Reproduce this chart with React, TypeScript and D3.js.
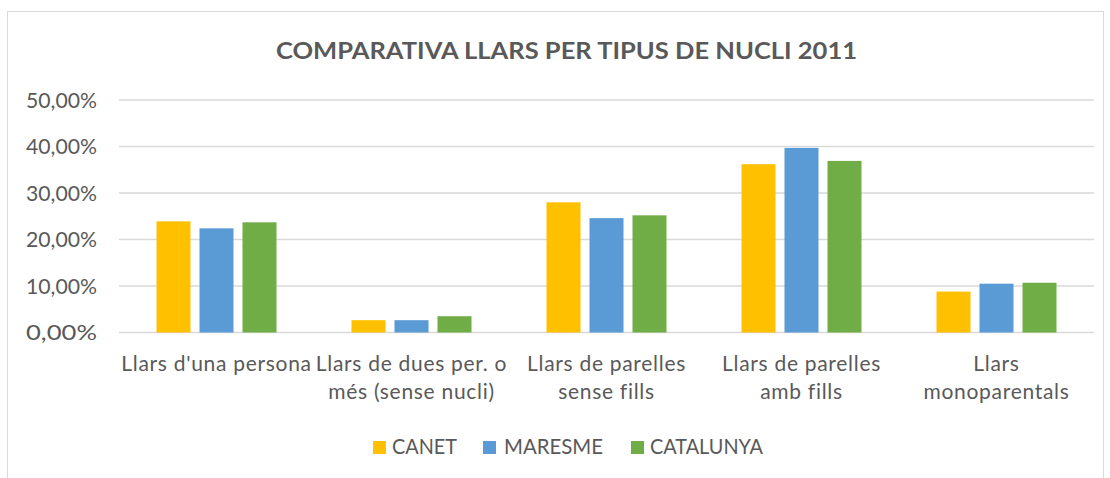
import React, { useEffect } from "react";
import * as d3 from "d3";

const categories = [
  "Llars d'una persona",
  "Llars de dues per. o més (sense nucli)",
  "Llars de parelles sense fills",
  "Llars de parelles amb fills",
  "Llars monoparentals",
];
const categoryLines = [
  ["Llars d'una persona"],
  ["Llars de dues per. o", "més (sense nucli)"],
  ["Llars de parelles", "sense fills"],
  ["Llars de parelles", "amb fills"],
  ["Llars", "monoparentals"],
];
const seriesNames = ["CANET", "MARESME", "CATALUNYA"];
const canet = [23.9, 2.65, 28.0, 36.2, 8.8];
const maresme = [22.4, 2.65, 24.6, 39.7, 10.5];
const catalunya = [23.7, 3.5, 25.2, 36.9, 10.7];
const yTicks = [0, 10, 20, 30, 40, 50];
const title = "COMPARATIVA LLARS PER TIPUS DE NUCLI 2011";

const colors = ["#FFC000", "#5B9BD5", "#70AD47"];
const FONT = "Lato, 'Open Sans', sans-serif";
const TXT = "#595959";

export default function App() {
  useEffect(() => {
    document.body.style.margin = "0";
  }, []);
  const W = 1110, H = 478;
  const left = 119, right = 1094, top = 100, bottom = 332.5;
  const x = d3.scaleBand<string>().domain(categories).range([left, right]).paddingInner(0).paddingOuter(0);
  const groupW = 120;
  const xi = d3.scaleBand<string>().domain(seriesNames).range([0, groupW]).paddingInner(9 / 43).paddingOuter(0);
  const y = d3.scaleLinear().domain([0, 50]).range([bottom, top]);
  const series = [canet, maresme, catalunya];
  const fmt = (v: number) => v.toFixed(2).replace(".", ",") + "%";

  const legendSq = [373, 483, 631];
  const legendTx = [392, 504, 650];
  const legendW = [65, 99, 113];

  return (
    <svg width={W} height={H} style={{ display: "block", background: "#fff" }} fontFamily={FONT}>
      <rect x={7.5} y={11.5} width={1096} height={480} fill="#fff" stroke="#D9D9D9" strokeWidth={1} />
      <text x={566.5} y={59} textAnchor="middle" fontSize={22} fontWeight="bold" fill={TXT} textLength={581} lengthAdjust="spacingAndGlyphs">
        {title}
      </text>
      {yTicks.map((t) => (
        <g key={t}>
          <line x1={left} x2={right} y1={y(t)} y2={y(t)} stroke="#D9D9D9" strokeWidth={1.3} />
          <text x={97} y={y(t) + 7.5} textAnchor="end" fontSize={21} fill={TXT} textLength={71} lengthAdjust="spacingAndGlyphs">
            {fmt(t)}
          </text>
        </g>
      ))}
      {categories.map((c, ci) => {
        const gx = (x(c) as number) + (x.bandwidth() - groupW) / 2;
        return (
          <g key={c}>
            {series.map((s, si) => (
              <rect
                key={si}
                x={gx + (xi(seriesNames[si]) as number)}
                y={y(s[ci])}
                width={xi.bandwidth()}
                height={y(0) - y(s[ci])}
                fill={colors[si]}
              />
            ))}
            {categoryLines[ci].map((ln, li) => (
              <text key={li} x={(x(c) as number) + x.bandwidth() / 2} y={371 + li * 27.5} textAnchor="middle" fontSize={21} letterSpacing={0.7} fill={TXT}>
                {ln}
              </text>
            ))}
          </g>
        );
      })}
      {seriesNames.map((n, i) => (
        <g key={n}>
          <rect x={legendSq[i]} y={441} width={13} height={13} fill={colors[i]} />
          <text x={legendTx[i]} y={454} fontSize={21} fill={TXT} textLength={legendW[i]} lengthAdjust="spacingAndGlyphs">
            {n}
          </text>
        </g>
      ))}
    </svg>
  );
}
